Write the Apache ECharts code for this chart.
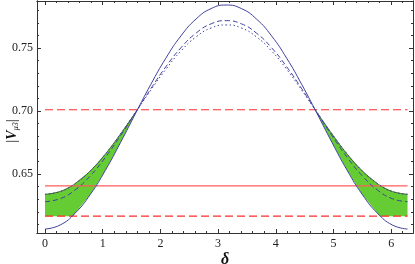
<!DOCTYPE html>
<html><head><meta charset="utf-8">
<script src="https://cdn.jsdelivr.net/npm/echarts@6/dist/echarts.min.js"></script>
<style>html,body{margin:0;padding:0;background:#fff}#c{width:415px;height:264px}</style>
</head><body><div id="c"></div>
<script>
// ---- data ----
const delta = [0, 0.2618, 0.5236, 0.7854, 1.0472, 1.3090, 1.5708, 1.8326, 2.0944, 2.3562, 2.6180, 2.8798, 3.1416,
               3.4034, 3.6652, 3.9270, 4.1888, 4.4506, 4.7124, 4.9742, 5.2360, 5.4978, 5.7596, 6.0214, 6.2832];
const solidV  = [0.6063, 0.6095, 0.6190, 0.6338, 0.6530, 0.6750, 0.6982, 0.7210, 0.7419, 0.7596, 0.7730, 0.7813, 0.7841,
                 0.7813, 0.7730, 0.7596, 0.7419, 0.7210, 0.6982, 0.6750, 0.6530, 0.6338, 0.6190, 0.6095, 0.6063];
const dashedV = [0.6280, 0.6304, 0.6374, 0.6486, 0.6633, 0.6804, 0.6989, 0.7176, 0.7351, 0.7502, 0.7618, 0.7692, 0.7717,
                 0.7692, 0.7618, 0.7502, 0.7351, 0.7176, 0.6989, 0.6804, 0.6633, 0.6486, 0.6374, 0.6304, 0.6280];
const dottedV = [0.6339, 0.6361, 0.6424, 0.6525, 0.6659, 0.6818, 0.6990, 0.7165, 0.7331, 0.7476, 0.7588, 0.7659, 0.7683,
                 0.7659, 0.7588, 0.7476, 0.7331, 0.7165, 0.6990, 0.6818, 0.6659, 0.6525, 0.6424, 0.6361, 0.6339];

const bandLeftDelta  = [0, 0.2618, 0.49, 0.5236, 0.7854, 1.0472, 1.3090, 1.60];
const bandLeftUpper  = [0.6339, 0.6361, 0.6413, 0.6424, 0.6525, 0.6659, 0.6818, 0.7010];
const bandLeftLower  = [0.6165, 0.6165, 0.6165, 0.6190, 0.6338, 0.6530, 0.6750, 0.7010];
const bandRightDelta = [4.683, 4.9742, 5.2360, 5.4978, 5.7596, 5.7932, 6.0214, 6.2832];
const bandRightUpper = [0.7010, 0.6818, 0.6659, 0.6525, 0.6424, 0.6413, 0.6361, 0.6339];
const bandRightLower = [0.7010, 0.6750, 0.6530, 0.6338, 0.6190, 0.6165, 0.6165, 0.6165];

const redDelta = [0, 6.2832];
const redUpper = 0.701;   // dashed
const redBest  = 0.6405;  // solid
const redLower = 0.6165;  // dashed

const xTickLabels = [0, 1, 2, 3, 4, 5, 6];
const xMinorTicks = [0.2,0.4,0.6,0.8,1.2,1.4,1.6,1.8,2.2,2.4,2.6,2.8,3.2,3.4,3.6,3.8,4.2,4.4,4.6,4.8,5.2,5.4,5.6,5.8,6.2];
const yTickLabels = [0.65, 0.70, 0.75];
const yMinorTicks = [0.61,0.62,0.63,0.64,0.66,0.67,0.68,0.69,0.71,0.72,0.73,0.74,0.76,0.77,0.78];

// ---- layout ----
const X_MIN = -0.1386, X_MAX = 6.378;
const Y_MIN = 0.60317, Y_MAX = 0.78730;
const FONT = '"Liberation Serif", "DejaVu Serif", "Times New Roman", serif';
const AX = '#333';
const BLUE = '#4040a0';

function pairs(xs, ys) { return xs.map((x, i) => [x, ys[i]]); }

function xAxisDef(position, ticks, len, withLabel, extra) {
  return Object.assign({
    type: 'value', position: position, min: X_MIN, max: X_MAX, z: 6,
    axisLine: { show: true, onZero: false, lineStyle: { color: AX, width: 1 } },
    axisTick: { show: true, inside: true, length: len, customValues: ticks, lineStyle: { color: AX, width: 1 } },
    axisLabel: withLabel ? { show: true, customValues: ticks, margin: 5, fontFamily: FONT, fontSize: 12, color: '#222',
                             formatter: v => String(Math.round(v)) } : { show: false },
    splitLine: { show: false }
  }, extra || {});
}
function yAxisDef(position, ticks, len, withLabel, extra) {
  return Object.assign({
    type: 'value', position: position, min: Y_MIN, max: Y_MAX, z: 6,
    axisLine: { show: true, onZero: false, lineStyle: { color: AX, width: 1 } },
    axisTick: { show: true, inside: true, length: len, customValues: ticks, lineStyle: { color: AX, width: 1 } },
    axisLabel: withLabel ? { show: true, customValues: ticks, margin: 4, fontFamily: FONT, fontSize: 12, color: '#222',
                             formatter: v => v.toFixed(2) } : { show: false },
    splitLine: { show: false }
  }, extra || {});
}

function bandRender(xs, up, lo) {
  return function (params, api) {
    if (params.dataIndex !== 0) return null;
    const pts = [];
    for (let i = 0; i < xs.length; i++) pts.push(api.coord([xs[i], up[i]]));
    for (let i = xs.length - 1; i >= 0; i--) pts.push(api.coord([xs[i], lo[i]]));
    return { type: 'polygon', shape: { points: pts }, style: { fill: '#66cc33', stroke: null } };
  };
}

const chart = echarts.init(document.getElementById('c'), null, { renderer: 'canvas' });
chart.setOption({
  animation: false,
  backgroundColor: '#fff',
  grid: { left: 37, right: 2, top: 1, bottom: 31, containLabel: false, outerBoundsMode: 'none' },
  graphic: [{
    type: 'text', x: 12, y: 131, rotation: Math.PI / 2, z: 10,
    style: {
      text: '{b||}{v|V}{s|μ3}{b||}', align: 'center', verticalAlign: 'middle',
      fontFamily: FONT, fill: '#111',
      rich: {
        b: { fontFamily: FONT, fontSize: 15, fill: '#111' },
        v: { fontFamily: FONT, fontSize: 14, fontStyle: 'italic', fontWeight: 'bold', fill: '#111' },
        s: { fontFamily: FONT, fontSize: 8, fontStyle: 'italic', fill: '#111', padding: [7, 0, 0, 0] }
      }
    }
  }],
  xAxis: [
    xAxisDef('bottom', xTickLabels, 4, true, {
      name: 'δ', nameLocation: 'middle', nameGap: 19, nameMoveOverlap: false,
      nameTextStyle: { fontFamily: FONT, fontSize: 16, fontStyle: 'italic', fontWeight: 'bold', color: '#111' }
    }),
    xAxisDef('bottom', xMinorTicks, 2, false),
    xAxisDef('top', xTickLabels, 4, false),
    xAxisDef('top', xMinorTicks, 2, false)
  ],
  yAxis: [
    yAxisDef('left', yTickLabels, 4, true),
    yAxisDef('left', yMinorTicks, 2, false),
    yAxisDef('right', yTickLabels, 4, false),
    yAxisDef('right', yMinorTicks, 2, false)
  ],
  series: [
    { type: 'custom', clip: true, renderItem: bandRender(bandLeftDelta, bandLeftUpper, bandLeftLower),
      data: pairs(bandLeftDelta, bandLeftUpper), z: 1, silent: true },
    { type: 'custom', clip: true, renderItem: bandRender(bandRightDelta, bandRightUpper, bandRightLower),
      data: pairs(bandRightDelta, bandRightUpper), z: 1, silent: true },
    { type: 'line', data: pairs(bandLeftDelta, bandLeftUpper), smooth: true, showSymbol: false, z: 2,
      lineStyle: { color: '#3b553b', width: 0.8 } },
    { type: 'line', data: pairs(bandRightDelta, bandRightUpper), smooth: true, showSymbol: false, z: 2,
      lineStyle: { color: '#3b553b', width: 0.8 } },
    { type: 'line', data: pairs(redDelta, [redUpper, redUpper]), showSymbol: false, z: 3,
      lineStyle: { color: '#ff2d2d', width: 1.2, type: [8, 4] } },
    { type: 'line', data: pairs(redDelta, [redBest, redBest]), showSymbol: false, z: 3,
      lineStyle: { color: '#ff5c5c', width: 1.3 } },
    { type: 'line', data: pairs(redDelta, [redLower, redLower]), showSymbol: false, z: 3,
      lineStyle: { color: '#ff2d2d', width: 1.2, type: [8, 4] } },
    { type: 'line', data: pairs(delta, solidV), smooth: true, showSymbol: false, z: 4,
      lineStyle: { color: BLUE, width: 1 } },
    { type: 'line', data: pairs(delta, dashedV), smooth: true, showSymbol: false, z: 4,
      lineStyle: { color: BLUE, width: 1, type: [5, 3] } },
    { type: 'line', data: pairs(delta, dottedV), smooth: true, showSymbol: false, z: 4,
      lineStyle: { color: BLUE, width: 1, type: [1.5, 2.5] } }
  ]
});
</script>
</body></html>
